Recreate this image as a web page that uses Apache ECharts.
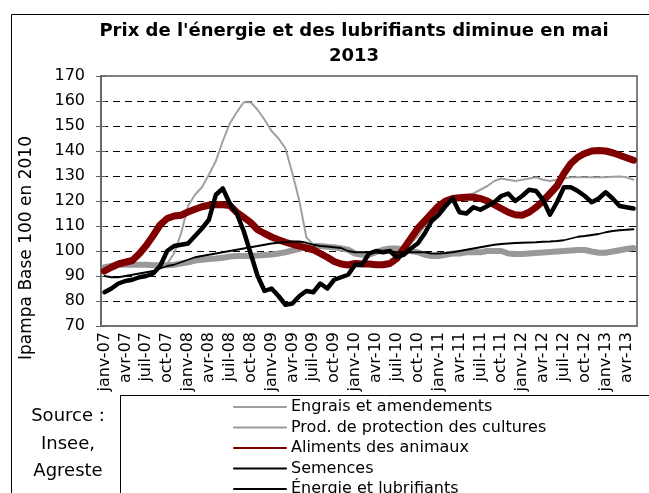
<!DOCTYPE html>
<html>
<head>
<meta charset="utf-8">
<script src="https://cdn.jsdelivr.net/npm/echarts@6/dist/echarts.min.js"></script>
<style>
  html, body { margin: 0; padding: 0; background: #fff; }
  #chart { width: 649px; height: 493px; }
</style>
</head>
<body>
<div id="chart"></div>
<script>
// libellés des mois (axe des abscisses) : janv-07 ... mai-13
var moisNoms = ["janv", "févr", "mars", "avr", "mai", "juin", "juil", "août", "sept", "oct", "nov", "déc"];
var annees = ["07", "08", "09", "10", "11", "12", "13"];
var categories = [];
annees.forEach(function (a) {
  moisNoms.forEach(function (m) {
    if (categories.length < 77) categories.push(m + "-" + a);
  });
});

var yTicks = [70, 80, 90, 100, 110, 120, 130, 140, 150, 160, 170];

// Ipampa, base 100 en 2010
var engrais = [
  94, 94.5, 94.5, 94.5, 94.5, 94.5, 94.5, 94.3, 94.3, 95, 99, 107,
  118, 122.5, 125.5, 130.5, 136, 144, 151, 155.5, 159.5, 159.5, 156.5, 152.5,
  148, 145, 141, 131, 120, 105.5, 102.5, 102, 102, 101.5, 101, 100,
  99.5, 99, 99, 100, 100.5, 100.5, 100.5, 101, 103, 106, 110, 114,
  117.5, 120, 121.5, 122, 122.5, 123, 124.5, 126, 128, 129, 128.5, 128,
  128.5, 129, 129.5, 128.5, 128, 128.5, 129, 129.5, 129.5, 129.5, 129.5, 129.5,
  129.5, 129.7, 129.8, 129.5, 128.5
];
var protection = [
  93.5, 94, 94.5, 94.5, 94.5, 94.5, 94.5, 94.3, 94.3, 94.3, 94.5, 95,
  95.5, 96.2, 96.5, 96.8, 97, 97.3, 97.8, 98, 98, 98, 98.2, 98.4,
  98.6, 99, 99.5, 100.2, 101, 101.7, 102, 102, 101.7, 101.5, 101, 100.5,
  99, 98.5, 98.5, 99.5, 100.5, 101, 101, 100.5, 100, 99.5, 98.5, 98,
  98, 98.5, 99, 99, 99.5, 99.5, 99.5, 100, 100, 100, 99, 98.8,
  98.8, 99, 99.2, 99.4, 99.6, 99.8, 100, 100.2, 100.4, 100.4, 99.8, 99.3,
  99.3, 99.8, 100.3, 100.8, 101.2
];
var aliments = [
  92, 93.5, 94.8, 95.5, 96.2, 98.9, 102.2, 106.2, 110.5, 113, 114, 114.3,
  115.6, 116.7, 117.7, 118.3, 118.6, 118.5, 118.2, 115.5, 113.5, 111.4, 108.5, 107,
  105.6, 104.5, 103.5, 102.7, 102, 101.2, 100.5, 99, 97.5, 95.8, 94.8, 94.4,
  95, 94.8, 94.8, 94.5, 94.5, 95, 97, 101, 105, 109, 112, 115,
  118, 120, 121, 121.3, 121.5, 121.5, 121, 120, 118.5, 117, 115.5, 114.5,
  114.3, 115.5, 117.5, 120, 123, 126, 131, 135, 137.5, 139, 140, 140.2,
  140, 139.3, 138.3, 137.3, 136.3
];
var semences = [
  90, 89.5, 89.5, 90, 90.5, 91, 91.5, 92, 93, 94, 94.5, 95.5,
  96.5, 97.5, 98, 98.5, 99, 99.5, 100, 100.5, 101, 101.5, 102, 102.5,
  103, 103.3, 103.5, 103.8, 103.8, 103.3, 102.5, 102, 101.8, 101.5, 101.2, 100,
  99.5, 99.5, 99.5, 99.8, 100, 99.8, 99.5, 99.5, 99.5, 99.5, 99.5, 99,
  99, 99.2, 99.5, 100, 100.5, 101, 101.5, 102, 102.5, 102.8, 103, 103.2,
  103.3, 103.4, 103.5, 103.7, 103.8, 104, 104.3, 105, 105.7, 106, 106.4, 106.8,
  107.5, 108, 108.3, 108.5, 108.7
];
var energie = [
  83.5, 85, 87, 88, 88.5, 89.5, 90, 91, 94, 100, 102, 102.5,
  103, 106, 109, 112.5, 122.5, 125, 119, 115, 108, 99, 90, 84,
  85, 82, 78.5, 79, 82, 84, 83.5, 87, 85, 88.5, 89.5, 90.5,
  94.5, 94.5, 99, 100, 99.5, 100, 97.5, 98.5, 101, 103, 107, 112,
  114.5, 118, 121, 115.5, 115, 117.5, 116.5, 118, 119.5, 122, 123, 120,
  122, 124.5, 124, 120.5, 114.5, 119.5, 125.5, 125.5, 124, 122, 119.5, 121,
  123.5, 121, 118, 117.5, 117
];

var police = "'DejaVu Sans', 'Liberation Sans', sans-serif";

var chart = echarts.init(document.getElementById("chart"), null, { renderer: "canvas" });

function serie(nom, data, couleur, largeur) {
  return {
    name: nom,
    type: "line",
    data: data,
    symbol: "none",
    showSymbol: false,
    lineStyle: { color: couleur, width: largeur, cap: "round", join: "round" },
    itemStyle: { color: couleur }
  };
}

var option = {
  animation: false,
  backgroundColor: "#fff",
  grid: {
    left: 101,
    top: 76,
    width: 536,
    height: 250,
    show: true,
    borderColor: "#808080",
    borderWidth: 2
  },
  graphic: [
    // cadre du graphique
    { type: "rect", shape: { x: 11.5, y: 14.5, width: 700, height: 600 },
      style: { fill: null, stroke: "#000", lineWidth: 1 }, silent: true, z: -1 },
    // cadre de la légende
    { type: "rect", shape: { x: 120.5, y: 395.5, width: 600, height: 200 },
      style: { fill: null, stroke: "#000", lineWidth: 1 }, silent: true, z: -1 },
    { type: "text", x: 354, y: 31,
      style: { text: "Prix de l'énergie et des lubrifiants diminue en mai", font: "bold 18px " + police,
               fill: "#000", textAlign: "center", textVerticalAlign: "middle" } },
    { type: "text", x: 354, y: 56,
      style: { text: "2013", font: "bold 18px " + police,
               fill: "#000", textAlign: "center", textVerticalAlign: "middle" } },
    { type: "text", x: 27, y: 248, rotation: Math.PI / 2,
      style: { text: "Ipampa Base 100 en 2010", font: "17px " + police,
               fill: "#000", textAlign: "center", textVerticalAlign: "middle" } },
    { type: "text", x: 68, y: 416,
      style: { text: "Source :", font: "18px " + police, fill: "#000", textAlign: "center", textVerticalAlign: "middle" } },
    { type: "text", x: 68, y: 444,
      style: { text: "Insee,", font: "18px " + police, fill: "#000", textAlign: "center", textVerticalAlign: "middle" } },
    { type: "text", x: 68, y: 471,
      style: { text: "Agreste", font: "18px " + police, fill: "#000", textAlign: "center", textVerticalAlign: "middle" } }
  ],
  legend: {
    orient: "vertical",
    left: 228,
    top: 394,
    height: 140,
    itemWidth: 52,
    itemHeight: 14,
    itemGap: 4.5,
    itemStyle: { opacity: 0 },
    textStyle: { fontFamily: police, fontSize: 16, color: "#000" },
    data: ["Engrais et amendements", "Prod. de protection des cultures", "Aliments des animaux",
           "Semences", "Énergie et lubrifiants"]
  },
  xAxis: {
    type: "category",
    data: categories,
    boundaryGap: true,
    axisLine: { lineStyle: { color: "#707070", width: 1.5 } },
    axisTick: { interval: 2, length: 5, lineStyle: { color: "#707070" } },
    axisLabel: {
      interval: 2,
      rotate: 90,
      margin: 6,
      fontFamily: police,
      fontSize: 16,
      color: "#000"
    },
    splitLine: { show: false }
  },
  yAxis: [
    {
      type: "value",
      min: yTicks[0],
      max: yTicks[yTicks.length - 1],
      interval: 10,
      axisLine: { show: true, lineStyle: { color: "#606060", width: 1.5 } },
      axisTick: { show: true, length: 5, lineStyle: { color: "#606060" } },
      axisLabel: { fontFamily: police, fontSize: 16, color: "#000", margin: 16 },
      splitLine: {
        show: true,
        showMinLine: false,
        showMaxLine: false,
        lineStyle: { color: "#000", width: 1, type: [7, 5] }
      }
    },
    {
      type: "value",
      position: "left",
      min: yTicks[0],
      max: yTicks[yTicks.length - 1],
      interval: 10,
      axisLine: { show: false },
      axisTick: { show: true, inside: true, length: 5, lineStyle: { color: "#606060" } },
      axisLabel: { show: false },
      splitLine: { show: false }
    }
  ],
  series: [
    serie("Engrais et amendements", engrais, "#a0a0a0", 2),
    serie("Prod. de protection des cultures", protection, "#999999", 6),
    serie("Aliments des animaux", aliments, "#800000", 7),
    serie("Semences", semences, "#000000", 1.8),
    serie("Énergie et lubrifiants", energie, "#000000", 4.5)
  ]
};

chart.setOption(option);
</script>
</body>
</html>
